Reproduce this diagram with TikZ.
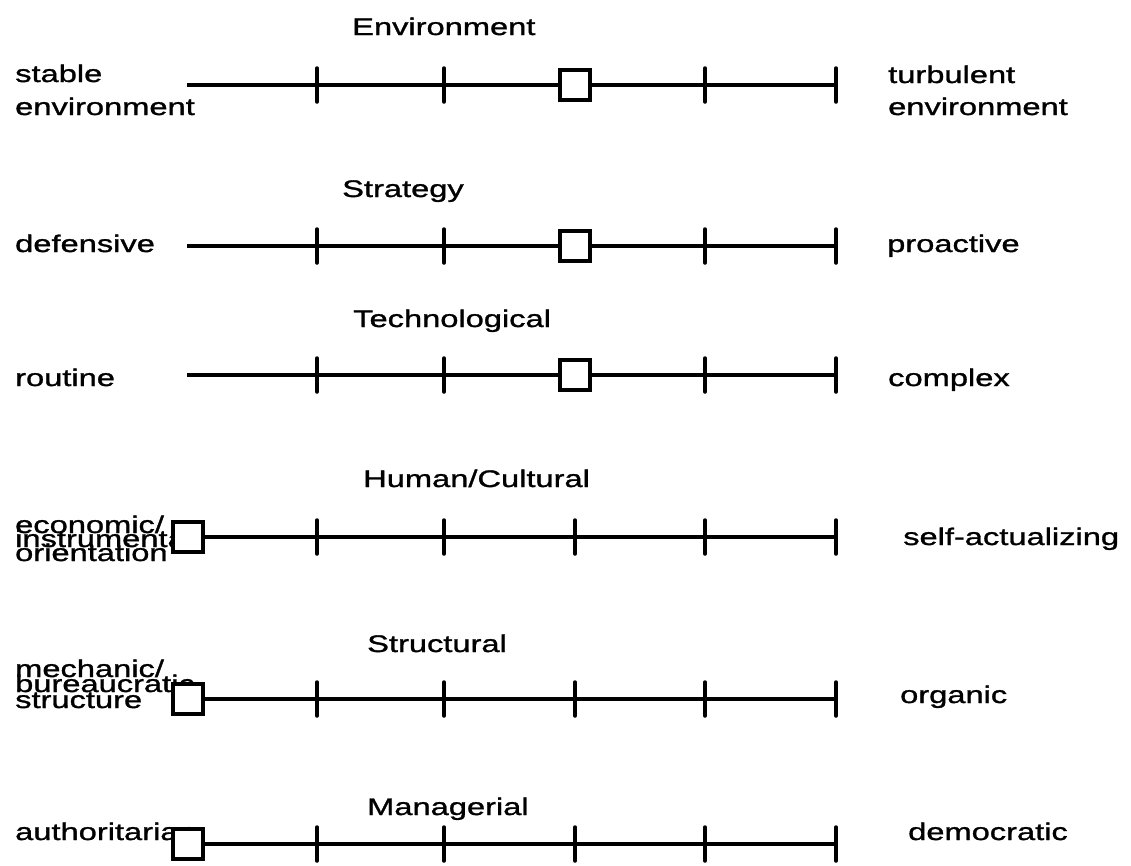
\documentclass[tikz,border=0pt]{standalone}
\usepackage{fontspec}
\setmainfont[FakeStretch=1.36, FakeBold=1.2]{Liberation Sans}
\usetikzlibrary{positioning}
\tikzset{
    scaleline/.style={line width=4pt},
    tickmark/.style={line width=3.5pt, line cap=round},
    markbox/.style={
        rectangle, draw, line width=4.5pt, fill=white,
        minimum size=30pt, inner sep=0pt
    },
    dimtitle/.style={anchor=base west, inner sep=0pt, font=\fontsize{24}{26}\selectfont},
    polelabel/.style={dimtitle},
}

\begin{document}
\begin{tikzpicture}[x=1pt, y=-1pt]
    \useasboundingbox (0,0) rectangle (1131,865);
    % six rating scales: name / line y / box x / title x / title y / title
    \foreach \n/\y/\bx/\tx/\ty/\ttl in {
        env/85/575/352/35/Environment,
        str/246/575/342/197/Strategy,
        tec/375/575/353/327/Technological,
        hum/537/188/363/487/Human\slash Cultural,
        stc/699/188/367/652/Structural,
        man/844/188/367/815/Managerial} {
        \coordinate (\n-start) at (187,\y);
        \coordinate (\n-end) at (836,\y);
        \draw[scaleline] (\n-start) -- (\n-end);
        % no tick where the box sits
        \foreach \k in {317,444,575,705,836} {
            \ifnum\k=\bx\relax\else
                \draw[tickmark] (\k,\y-17) -- (\k,\y+17);
            \fi
        }
        \node[dimtitle] (\n-title) at (\tx,\ty) {\ttl};
    }

    % left poles
    \node[polelabel] (env-lo1) at (15,82) {stable};
    \node[polelabel] (env-lo2) at (15,115) {environment};
    \node[polelabel] (str-lo) at (15,252) {defensive};
    \node[polelabel] (tec-lo) at (15,386) {routine};
    \node[polelabel] (hum-lo1) at (15,533) {economic/};
    \node[polelabel] (hum-lo2) at (15,547) {instrumental};
    \node[polelabel] (hum-lo3) at (15,561) {orientation};
    \node[polelabel] (stc-lo1) at (15,677) {mechanic/};
    \node[polelabel] (stc-lo2) at (15,692) {bureaucratic};
    \node[polelabel] (stc-lo3) at (15,708) {structure};
    \node[polelabel] (man-lo) at (15,840) {authoritarian};

    % right poles
    \node[polelabel] (env-hi1) at (888,83) {turbulent};
    \node[polelabel] (env-hi2) at (888,115) {environment};
    \node[polelabel] (str-hi) at (887,252) {proactive};
    \node[polelabel] (tec-hi) at (888,386) {complex};
    \node[polelabel] (hum-hi) at (903,545) {self-actualizing};
    \node[polelabel] (stc-hi) at (900,703) {organic};
    \node[polelabel] (man-hi) at (908,840) {democratic};

    % rating marks
    \node[markbox] (env-mark) at (575,85) {};
    \node[markbox] (str-mark) at (575,246) {};
    \node[markbox] (tec-mark) at (575,375) {};
    \node[markbox] (hum-mark) at (188,537) {};
    \node[markbox] (stc-mark) at (188,699) {};
    \node[markbox] (man-mark) at (188,844) {};
\end{tikzpicture}
\end{document}
